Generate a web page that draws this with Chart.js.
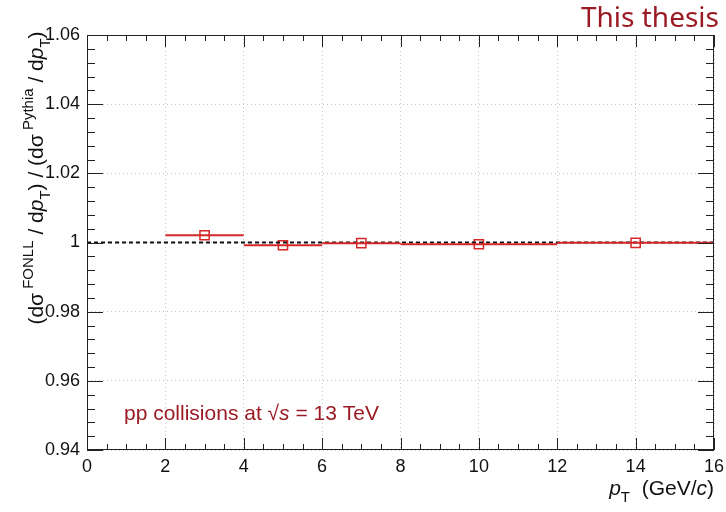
<!DOCTYPE html>
<html>
<head>
<meta charset="utf-8">
<script src="https://cdn.jsdelivr.net/npm/chart.js@4.4.1/dist/chart.umd.min.js"></script>
<style>
  html, body { margin: 0; padding: 0; background: #fff; }
  #wrap { width: 726px; height: 512px; }
</style>
</head>
<body>
<div id="wrap"><canvas id="ratioChart"></canvas></div>
<script>
// bins in pT (GeV/c) and FONLL / Pythia ratio
var binLow = [2, 4, 6, 8, 12];
var binHigh = [4, 6, 8, 12, 16];
var binCenter = [3, 5, 7, 10, 14];
var ratio = [1.0021, 0.9992, 0.9998, 0.9995, 0.9999];
var xTicks = [0, 2, 4, 6, 8, 10, 12, 14, 16];
var yTicks = [0.94, 0.96, 0.98, 1.00, 1.02, 1.04, 1.06];

var red = 'rgb(214, 39, 40)';
var darkRed = 'rgb(155, 27, 36)';
var FONT = '"Liberation Sans", Arial, sans-serif';

// draw a line of text made of pieces (sub/superscripts, italics)
function drawPieces(ctx, pieces, x, y, align) {
    var total = 0;
    pieces.forEach(function(p) {
        ctx.font = p.font;
        total += ctx.measureText(p.text).width;
    });
    var cx = x;
    if (align === 'center') cx = x - total / 2;
    if (align === 'right') cx = x - total;
    ctx.textAlign = 'left';
    ctx.textBaseline = 'alphabetic';
    pieces.forEach(function(p) {
        ctx.font = p.font;
        ctx.fillText(p.text, cx, y + (p.dy || 0));
        cx += ctx.measureText(p.text).width;
    });
}

var n21 = '21px ' + FONT, i21 = 'italic 21px ' + FONT, s15 = '15px ' + FONT;

var rootFrame = {
    id: 'rootFrame',
    afterDraw: function(chart) {
        var ctx = chart.ctx, a = chart.chartArea;
        var xs = chart.scales.x, ys = chart.scales.y;
        ctx.save();
        ctx.strokeStyle = '#222';
        ctx.lineWidth = 1;
        ctx.strokeRect(a.left + 0.5, a.top + 0.5, a.right - a.left - 1, a.bottom - a.top - 1);
        ctx.beginPath();
        // x ticks (inward, bottom and top)
        for (var v = 0; v <= 16.001; v += 0.5) {
            var px = Math.round(xs.getPixelForValue(v)) + 0.5;
            var len = (Math.abs(v / 2 - Math.round(v / 2)) < 1e-6) ? 12 : 6;
            ctx.moveTo(px, a.bottom); ctx.lineTo(px, a.bottom - len);
            ctx.moveTo(px, a.top); ctx.lineTo(px, a.top + len);
        }
        // y ticks (inward, left and right)
        for (var k = 0; k <= 30; k++) {
            var val = 0.94 + k * 0.004;
            var py = Math.round(ys.getPixelForValue(val)) + 0.5;
            var l = (k % 5 === 0) ? 16 : 8;
            ctx.moveTo(a.left, py); ctx.lineTo(a.left + l, py);
            ctx.moveTo(a.right, py); ctx.lineTo(a.right - l, py);
        }
        ctx.stroke();

        // axis titles
        ctx.fillStyle = '#111';
        drawPieces(ctx, [
            { text: 'p', font: i21 },
            { text: 'T', font: s15, dy: 7 },
            { text: '  (GeV/', font: n21 },
            { text: 'c', font: i21 },
            { text: ')', font: n21 }
        ], a.right, 495, 'right');

        ctx.save();
        ctx.translate(43, 178);
        ctx.rotate(-Math.PI / 2);
        drawPieces(ctx, [
            { text: '(d\u03c3', font: n21 },
            { text: ' FONLL', font: s15, dy: -10 },
            { text: ' / d', font: n21 },
            { text: 'p', font: i21 },
            { text: 'T', font: s15, dy: 7 },
            { text: ') / (d\u03c3', font: n21 },
            { text: ' Pythia', font: s15, dy: -10 },
            { text: ' / d', font: n21 },
            { text: 'p', font: i21 },
            { text: 'T', font: s15, dy: 7 },
            { text: ')', font: n21 }
        ], 0, 0, 'center');
        ctx.restore();

        // labels
        ctx.fillStyle = darkRed;
        ctx.font = '28px "Noto Sans", sans-serif';
        ctx.textAlign = 'right';
        ctx.fillText('This thesis', 719, 27);
        drawPieces(ctx, [
            { text: 'pp collisions at \u221a', font: '21px ' + FONT },
            { text: 's', font: 'italic 21px ' + FONT },
            { text: ' = 13 TeV', font: '21px ' + FONT }
        ], 124, 420, 'left');
        ctx.restore();
    }
};

var datasets = [];
// error bars along pT (bin widths)
for (var i = 0; i < binLow.length; i++) {
    datasets.push({
        type: 'line',
        data: [{ x: binLow[i], y: ratio[i] }, { x: binHigh[i], y: ratio[i] }],
        borderColor: red,
        borderWidth: 2,
        pointRadius: 0,
        fill: false
    });
}
// reference line at unity
datasets.push({
    type: 'line',
    data: [{ x: 0, y: 1 }, { x: 16, y: 1 }],
    borderColor: '#111',
    borderWidth: 2,
    borderDash: [4, 3],
    pointRadius: 0,
    fill: false
});
datasets.push({
    type: 'scatter',
    data: binCenter.map(function(x, i) { return { x: x, y: ratio[i] }; }),
    pointStyle: 'rect',
    pointRadius: 6.5,
    pointBorderWidth: 1.5,
    pointBackgroundColor: '#fff',
    pointBorderColor: red
});

var ctx = document.getElementById('ratioChart').getContext('2d');
var chart = new Chart(ctx, {
    type: 'scatter',
    data: { datasets: datasets },
    options: {
        responsive: true,
        maintainAspectRatio: false,
        animation: false,
        layout: { padding: { top: 35, right: 12, left: 0, bottom: 0 } },
        plugins: {
            legend: { display: false },
            tooltip: { enabled: false }
        },
        scales: {
            x: {
                type: 'linear',
                min: 0,
                max: 16,
                afterBuildTicks: function(scale) {
                    scale.ticks = xTicks.map(function(v) { return { value: v }; });
                },
                afterFit: function(scale) {
                    scale.height = 62;
                    scale.paddingLeft = 0;
                    scale.paddingRight = 0;
                },
                ticks: { color: '#111', font: { size: 18, family: FONT }, padding: 6, maxRotation: 0 },
                grid: { color: '#c8c8c8', lineWidth: 1, drawTicks: false },
                border: { display: false, dash: [1, 3] }
            },
            y: {
                type: 'linear',
                min: 0.94,
                max: 1.06,
                afterBuildTicks: function(scale) {
                    scale.ticks = yTicks.map(function(v) { return { value: v }; });
                },
                afterFit: function(scale) { scale.width = 87; },
                ticks: {
                    color: '#111',
                    font: { size: 18, family: FONT },
                    padding: 7,
                    callback: function(v) { return String(Number(v.toFixed(2))); }
                },
                grid: { color: '#c8c8c8', lineWidth: 1, drawTicks: false },
                border: { display: false, dash: [1, 3] }
            }
        }
    },
    plugins: [rootFrame]
});
</script>
</body>
</html>
